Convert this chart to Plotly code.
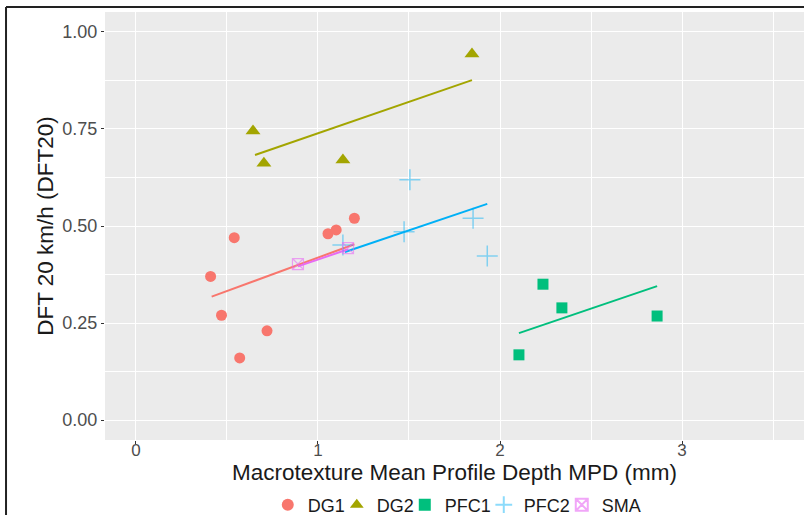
import plotly.graph_objects as go

# ---- data ----
groups = ["DG1", "DG2", "PFC1", "PFC2", "SMA"]

dg1_x = [0.41, 0.47, 0.54, 0.57, 0.72, 1.055, 1.10, 1.20]
dg1_y = [0.37, 0.27, 0.47, 0.16, 0.23, 0.48, 0.49, 0.52]

dg2_x = [0.643, 0.703, 1.137, 1.846]
dg2_y = [0.745, 0.662, 0.670, 0.943]

pfc1_x = [2.104, 2.236, 2.340, 2.863]
pfc1_y = [0.168, 0.350, 0.289, 0.268]

pfc2_x = [1.137, 1.473, 1.505, 1.852, 1.930]
pfc2_y = [0.451, 0.485, 0.619, 0.520, 0.423]

sma_x = [0.89, 1.165]
sma_y = [0.402, 0.443]

# linear-fit lines (end points)
dg1_fit_x = [0.416, 1.20]
dg1_fit_y = [0.318, 0.453]
dg2_fit_x = [0.654, 1.846]
dg2_fit_y = [0.683, 0.876]
pfc1_fit_x = [2.104, 2.863]
pfc1_fit_y = [0.224, 0.345]
pfc2_fit_x = [1.148, 1.930]
pfc2_fit_y = [0.433, 0.557]
sma_fit_x = [0.89, 1.165]
sma_fit_y = [0.396, 0.440]

x_ticks = [0, 1, 2, 3]
y_ticks = [0.00, 0.25, 0.50, 0.75, 1.00]
y_tick_labels = ["0.00", "0.25", "0.50", "0.75", "1.00"]

colors = {"DG1": "#F8766D", "DG2": "#A3A500", "PFC1": "#00BF7D",
          "PFC2": "#00B0F6", "SMA": "#E76BF3"}

FONT = "Liberation Sans, Arial, Helvetica, sans-serif"

fig = go.Figure()

# fit lines first (below points)
fits = [("DG1", dg1_fit_x, dg1_fit_y), ("DG2", dg2_fit_x, dg2_fit_y),
        ("PFC1", pfc1_fit_x, pfc1_fit_y), ("PFC2", pfc2_fit_x, pfc2_fit_y),
        ("SMA", sma_fit_x, sma_fit_y)]
for name, fx, fy in fits:
    fig.add_trace(go.Scatter(x=fx, y=fy, mode="lines", showlegend=False,
                             line=dict(color=colors[name], width=2),
                             hoverinfo="skip"))

fig.add_trace(go.Scatter(x=dg1_x, y=dg1_y, mode="markers", name="DG1", legendwidth=24,
                         marker=dict(symbol="circle", size=11, color=colors["DG1"])))
fig.add_trace(go.Scatter(x=dg2_x, y=dg2_y, mode="markers", name="DG2", legendwidth=23,
                         marker=dict(symbol="triangle-up", size=13, color=colors["DG2"])))
fig.add_trace(go.Scatter(x=pfc1_x, y=pfc1_y, mode="markers", name="PFC1", legendwidth=34,
                         marker=dict(symbol="square", size=11, color=colors["PFC1"])))
fig.add_trace(go.Scatter(x=pfc2_x, y=pfc2_y, mode="markers", name="PFC2", legendwidth=33,
                         marker=dict(symbol="cross-thin-open", size=15,
                                     color="rgba(0,176,246,0.45)",
                                     line=dict(width=1.5, color="rgba(0,176,246,0.45)"))))
fig.add_trace(go.Scatter(x=sma_x, y=sma_y, mode="markers", name="SMA", legendwidth=42,
                         marker=dict(symbol="square-x-open", size=11,
                                     color="rgba(231,107,243,0.6)",
                                     line=dict(width=1.2, color="rgba(231,107,243,0.6)"))))

# outer frame (top and left edges visible in the reference)
fig.add_shape(type="line", xref="paper", yref="paper",
              x0=-0.1416, x1=1.05, y0=1.0117, y1=1.0117,
              line=dict(color="#222222", width=2))
fig.add_shape(type="line", xref="paper", yref="paper",
              x0=-0.1416, x1=-0.1416, y0=-0.3, y1=1.0117,
              line=dict(color="#222222", width=2))

axis_common = dict(showline=False, zeroline=False, gridcolor="white", gridwidth=1.2,
                   ticks="outside", ticklen=3, tickwidth=1, tickcolor="#333333",
                   automargin=False)

fig.update_xaxes(range=[-0.17, 3.67], tickvals=x_ticks, ticklabelstandoff=-8,
                 tickfont=dict(family=FONT, size=17, color="#4D4D4D"),
                 minor=dict(dtick=0.5, tick0=0, gridcolor="white", gridwidth=0.5, ticks=""),
                 title=dict(text="Macrotexture Mean Profile Depth MPD (mm)",
                            font=dict(family=FONT, size=22.5, color="#1A1A1A"), standoff=0),
                 **axis_common)
fig.update_yaxes(range=[-0.0515, 1.0515], tickvals=y_ticks, ticktext=y_tick_labels,
                 tickfont=dict(family=FONT, size=18, color="#4D4D4D"),
                 minor=dict(dtick=0.125, tick0=0, gridcolor="white", gridwidth=0.5, ticks=""),
                 title=dict(text="DFT 20 km/h (DFT20)",
                            font=dict(family=FONT, size=22.5, color="#1A1A1A"), standoff=2),
                 **axis_common)

fig.update_layout(
    width=804, height=515,
    margin=dict(l=105, r=0, t=12, b=75, autoexpand=False),
    paper_bgcolor="white", plot_bgcolor="#EBEBEB",
    font=dict(family=FONT, color="#1A1A1A"),
    legend=dict(orientation="h", xref="container", yref="container",
                x=0.57, xanchor="center", y=0.0194, yanchor="middle",
                font=dict(family=FONT, size=18, color="#1A1A1A"),
                entrywidthmode="pixels",
                itemsizing="constant", tracegroupgap=0, bgcolor="rgba(0,0,0,0)"),
)

fig.write_html("out.html", config={"displayModeBar": False},
               post_script="document.body.style.margin='0';document.body.style.overflow='hidden';")
